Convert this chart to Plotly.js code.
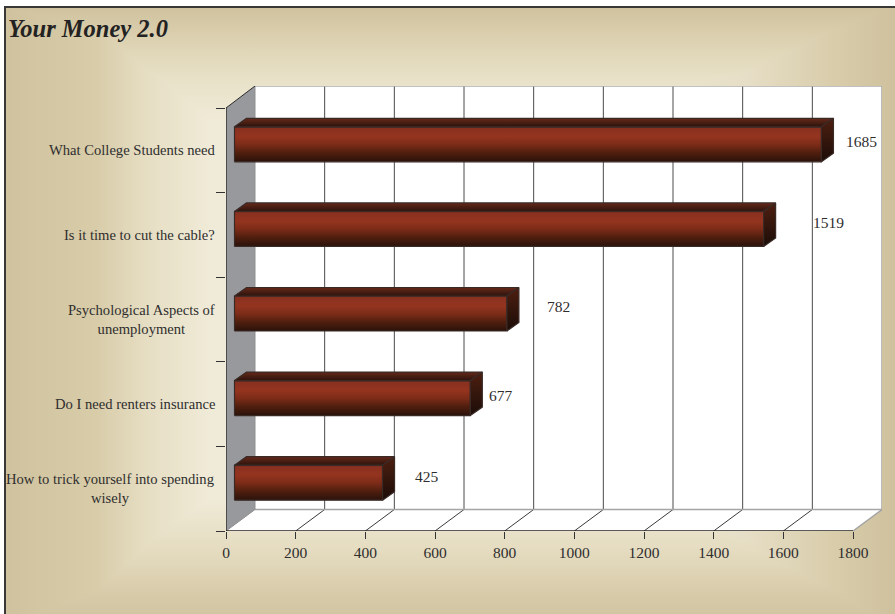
<!DOCTYPE html>
<html>
<head>
<meta charset="utf-8">
<script src="https://cdn.plot.ly/plotly-3.0.1.min.js"></script>
<style>
html,body{margin:0;padding:0;background:#fff;width:895px;height:614px;overflow:hidden}
#bg{position:absolute;left:4px;top:6px;width:891px;height:608px;box-sizing:border-box;
border-left:2px solid #3a3836;border-top:2px solid #3a3836;
background-image:
 linear-gradient(to bottom,#d0c29e 0px,#dfd5b6 40px,#e8e1c8 70px,#f0ebd8 115px,#f0ebd8 490px,#e4dbbf 545px,#d8cbaa 585px,#d2c5a2 606px),
 linear-gradient(to right,#d0c29e 0px,#d8cca9 90px,#e6dec3 140px,#f0ebd8 205px,#f0ebd8 600px,#e6dec6 740px,#d8ccaa 830px,#cfc19e 889px);
background-blend-mode:darken}
#chart{position:absolute;left:0;top:0;width:895px;height:614px}
</style>
</head>
<body>
<div id="bg"></div>
<div id="chart"></div>
<script>
// ---- data ----
const categories = [
  "What College Students need",
  "Is it time to cut the cable?",
  "Psychological Aspects of<br>unemployment",
  "Do I need renters insurance",
  "How to trick yourself into spending<br>wisely"
];
const values = [1685, 1519, 782, 677, 425];
const xTicks = [0, 200, 400, 600, 800, 1000, 1200, 1400, 1600, 1800];
const chartTitle = "Your Money 2.0";

// ---- style / projection (px) ----
const labelShiftX = [49, 73, 60, 39, 53];
const labelShiftY = [8.5, 12, 13, 8.5, 12];
const W = 895, H = 614;
const plotL = 226, plotR = 882, plotT = 86, plotB = 531;
const xAxisMax = xTicks[xTicks.length - 1];
const pxPerX = 627 / xAxisMax;
const pxPerY = 84.6;
const n = categories.length;
const wallDX = 29 / pxPerX, wallDY = 21.5 / pxPerY;
const barOffX = 8.5 / pxPerX, barOffY = 6 / pxPerY;
const barHalf = 17.5 / pxPerY;
const barDX = 12 / pxPerX, barDY = 8.5 / pxPerY;
const xMax = (plotR - plotL) / pxPerX, yMax = (plotB - plotT) / pxPerY;

const serif = "'Liberation Serif','Times New Roman',serif";
const dark = '#2f2e2e';

function poly(x, y, grad, yTop, yBottom) {
  return {
    type: 'scatter', mode: 'lines', x: x.concat(x[0]), y: y.concat(y[0]),
    fill: 'toself', line: {color: '#3a2a26', width: 1.2},
    fillgradient: {type: 'vertical', colorscale: grad, start: yTop, stop: yBottom},
    hoverinfo: 'skip', showlegend: false
  };
}
const frontScale = [[0,'#6b2a20'],[0.05,'#8a3120'],[0.28,'#94341f'],[0.5,'#7d2c18'],[0.75,'#4f1e0e'],[1,'#2a120b']];
const topScale = [[0,'#66291a'],[1,'#2c130c']];
const sideScale = [[0,'#4e1f10'],[1,'#1b0d08']];

const traces = [];
values.forEach((v, i) => {
  const c = n - i - 0.5;
  const x0 = barOffX, x1 = barOffX + v;
  const y0 = c + barOffY - barHalf, y1 = c + barOffY + barHalf;
  traces.push(poly([x0, x1, x1, x0], [y0, y0, y1, y1], frontScale, y1, y0));
  traces.push(poly([x0, x1, x1 + barDX, x0 + barDX], [y1, y1, y1 + barDY, y1 + barDY], topScale, y1 + barDY, y1));
  traces.push(poly([x1, x1 + barDX, x1 + barDX, x1], [y0, y0 + barDY, y1 + barDY, y1], sideScale, y1 + barDY, y0));
});

const shapes = [];
const rect = (x, y, fill) => {
  shapes.push({type:'path', xref:'x', yref:'y', layer:'below', fillcolor:fill, line:{width:0},
    path:'M' + x.map((a,k)=>a+','+y[k]).join('L') + 'Z'});
};
const seg = (x0,y0,x1,y1,color,width) => shapes.push({type:'line', xref:'x', yref:'y', layer:'below',
  x0, y0, x1, y1, line:{color, width}});

// walls and floor
rect([wallDX, xMax, xMax, wallDX], [wallDY, wallDY, yMax, yMax], '#ffffff');
rect([0, xAxisMax, xMax, wallDX], [0, 0, wallDY, wallDY], '#ffffff');
rect([0, wallDX, wallDX, 0], [0, wallDY, yMax, n], '#98999d');
// grid: back wall and floor
xTicks.slice(1, -1).forEach(t => {
  seg(t + wallDX, wallDY, t + wallDX, yMax, '#4a4a4a', 1);
  seg(t, 0, t + wallDX, wallDY, '#3a3a3a', 1);
});
// frame
seg(wallDX, yMax, xMax, yMax, '#adadad', 1.5);
seg(xMax, wallDY, xMax, yMax, '#a5a5a5', 1.5);
seg(wallDX, wallDY, xMax, wallDY, '#a5a5a5', 1.5);
seg(wallDX, wallDY, wallDX, yMax, '#8f8f8f', 1);
seg(xAxisMax, 0, xMax, wallDY, '#a5a5a5', 1.5);
seg(0, n, wallDX, yMax, '#2b2a2a', 1);
seg(0, 0, wallDX, wallDY, '#8f8f8f', 1);
seg(0, 0, xAxisMax, 0, '#222222', 1.3);
seg(0, 0, 0, n, '#222222', 1.3);

const annotations = [];
categories.forEach((txt, i) => annotations.push({
  xref:'x', yref:'y', x:0, y:n - i - 0.5, xshift:-9, text:txt, showarrow:false,
  xanchor:'right', yanchor:'middle', align:'center',
  font:{family:serif, size:14.6, color:dark}
}));
values.forEach((v, i) => annotations.push({
  xref:'x', yref:'y', x:v, y:n - i - 0.5, xshift:labelShiftX[i], yshift:labelShiftY[i],
  text:String(v), showarrow:false, xanchor:'center', yanchor:'middle',
  font:{family:serif, size:15.5, color:dark}
}));
annotations.push({
  xref:'paper', yref:'paper', x:-plotL/(plotR-plotL), y:1, xshift:6, yshift:58,
  text:'<b><i>' + chartTitle + '</i></b>', showarrow:false, xanchor:'left', yanchor:'middle',
  font:{family:serif, size:24.5, color:'#232222'}
});

Plotly.newPlot('chart', traces, {
  width:W, height:H, autosize:false, showlegend:false,
  paper_bgcolor:'rgba(0,0,0,0)', plot_bgcolor:'rgba(0,0,0,0)',
  margin:{l:plotL, r:W-plotR, t:plotT, b:H-plotB, pad:0},
  xaxis:{range:[0,xMax], tickmode:'array', tickvals:xTicks, ticktext:xTicks.map(String),
    ticks:'outside', ticklen:7, tickcolor:'#333', tickwidth:1, showgrid:false, zeroline:false, showline:false,
    tickfont:{family:serif, size:15.5, color:dark}},
  yaxis:{range:[0,yMax], tickmode:'array', tickvals:[0,1,2,3,4,5], showticklabels:false,
    ticks:'outside', ticklen:9, tickcolor:'#333', tickwidth:1, showgrid:false, zeroline:false, showline:false},
  shapes, annotations
}, {displayModeBar:false, staticPlot:true});
</script>
</body>
</html>
